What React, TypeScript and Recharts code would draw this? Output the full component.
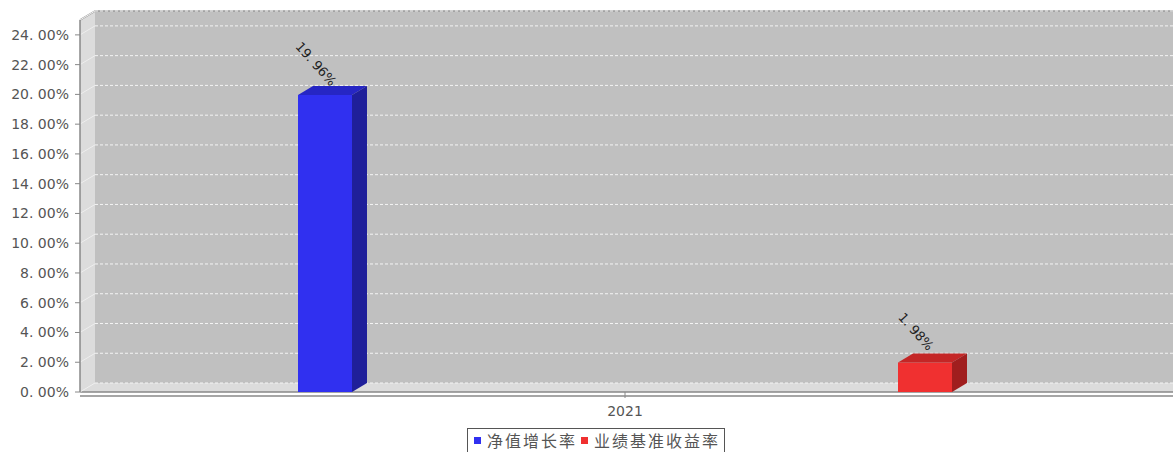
import React from "react";
import {
  BarChart, Bar, XAxis, YAxis, CartesianGrid, ReferenceArea, LabelList,
} from "recharts";

const categories = ["2021"];
const navGrowth = [19.96];
const benchmark = [1.98];
const yTicks = [0, 2, 4, 6, 8, 10, 12, 14, 16, 18, 20, 22, 24];
const seriesNames = ["净值增长率", "业绩基准收益率"];
const seriesColors = ["#3030f0", "#f03030"];

const data = categories.map((c, i) => ({ year: c, nav: navGrowth[i], bench: benchmark[i] }));

// 3d depth offset
const DX = 15;
const DY = 9;

const fmt = (v: number) => `${v.toFixed(2).replace(".", ". ")}%`;

function Walls(props: any) {
  const { x, y, width, height } = props;
  const b = y + height;
  const r = x + width + DX + 20;
  return (
    <g>
      <rect x={x + DX} y={y - DY} width={r - x - DX} height={height} fill="#c0c0c0" />
      <polygon points={`${x},${y} ${x + DX},${y - DY} ${x + DX},${b - DY} ${x},${b}`} fill="#dcdcdc" />
      <polygon points={`${x},${b} ${x + DX},${b - DY} ${r},${b - DY} ${r},${b}`} fill="#dcdcdc" />
      <polyline points={`${x},${y} ${x + DX},${y - DY} ${r},${y - DY}`} fill="none" stroke="#999" strokeWidth={1.5} />
      <line x1={x} y1={b} x2={r} y2={b} stroke="#888" strokeWidth={1.5} />
      <line x1={x} y1={b + 4} x2={r} y2={b + 4} stroke="#888" strokeWidth={1.5} />
    </g>
  );
}

function GridLine(props: any) {
  const { x1, y1, x2 } = props;
  return (
    <g>
      <line x1={x1} y1={y1} x2={x1 + DX} y2={y1 - DY} stroke="#eeeeee" strokeWidth={1} />
      <line x1={x1 + DX} y1={y1 - DY} x2={x2 + DX + 20} y2={y1 - DY} stroke="#f4f4f4" strokeDasharray="3 2" strokeWidth={1} />
    </g>
  );
}

function makeBar(front: string, top: string, side: string) {
  return (props: any) => {
    const { x, y, width, height } = props;
    if (!height) return <g />;
    const w = width;
    return (
      <g>
        <rect x={x} y={y} width={w} height={height} fill={front} />
        <polygon points={`${x},${y} ${x + DX},${y - DY} ${x + w + DX},${y - DY} ${x + w},${y}`} fill={top} />
        <polygon points={`${x + w},${y} ${x + w + DX},${y - DY} ${x + w + DX},${y + height - DY} ${x + w},${y + height}`} fill={side} />
      </g>
    );
  };
}

function BarLabel(props: any) {
  const { x, y, value } = props;
  const cx = x + 18;
  const cy = y - 31;
  return (
    <text x={cx} y={cy} transform={`rotate(48 ${cx} ${cy})`} textAnchor="middle" dominantBaseline="central"
      fontSize={13} fill="#222" fontFamily="DejaVu Sans">
      {fmt(value)}
    </text>
  );
}

function LegendBox() {
  return (
    <div style={{
      position: "absolute", left: 467, top: 428,
      display: "inline-flex", alignItems: "center", border: "1px solid #555", padding: "2px 4px 4px 6px",
      fontFamily: "'Noto Sans CJK SC'", fontSize: 16, color: "#555", background: "#fff", lineHeight: "18px",
    }}>
      {seriesNames.map((name, i) => (
        <span key={i} style={{ display: "inline-flex", alignItems: "center", marginRight: i === 0 ? 4 : 0 }}>
          <span style={{ width: 7, height: 7, background: seriesColors[i], display: "inline-block", marginRight: 6 }} />
          <span style={{ letterSpacing: 2 }}>{name}</span>
        </span>
      ))}
    </div>
  );
}

export default function App() {
  return (
    <div style={{ position: "absolute", left: 0, top: 0, width: 1173, height: 452, background: "#fff", overflow: "hidden" }}>
      <BarChart width={1173} height={452} data={data} margin={{ top: 20, right: 3, bottom: 30, left: 0 }}
        barSize={54} barGap={546} barCategoryGap={0}>
        <ReferenceArea y1={0} y2={25} shape={<Walls />} zIndex={-200} ifOverflow="visible" />
        <CartesianGrid vertical={false} horizontal={(p: any) => <GridLine key={p.key} {...p} />} />
        <XAxis dataKey="year" height={30} axisLine={false} tickLine={{ stroke: "#888" }} tickSize={6} tickMargin={8}
          tick={{ fill: "#555", fontSize: 14, fontFamily: "DejaVu Sans" }} />
        <YAxis type="number" domain={[0, 25]} ticks={yTicks} width={80} tickFormatter={fmt}
          axisLine={{ stroke: "#888", strokeWidth: 1.5 }} tickLine={{ stroke: "#888" }} tickSize={5} tickMargin={6}
          tick={{ fill: "#555", fontSize: 14, fontFamily: "DejaVu Sans" }} />
        <Bar dataKey="nav" name={seriesNames[0]} fill={seriesColors[0]} isAnimationActive={false}
          shape={makeBar(seriesColors[0], "#2626c4", "#1f1f9a")}>
          <LabelList dataKey="nav" content={<BarLabel />} />
        </Bar>
        <Bar dataKey="bench" name={seriesNames[1]} fill={seriesColors[1]} isAnimationActive={false}
          shape={makeBar(seriesColors[1], "#c42626", "#a01e1e")}>
          <LabelList dataKey="bench" content={<BarLabel />} />
        </Bar>
      </BarChart>
      <LegendBox />
    </div>
  );
}
